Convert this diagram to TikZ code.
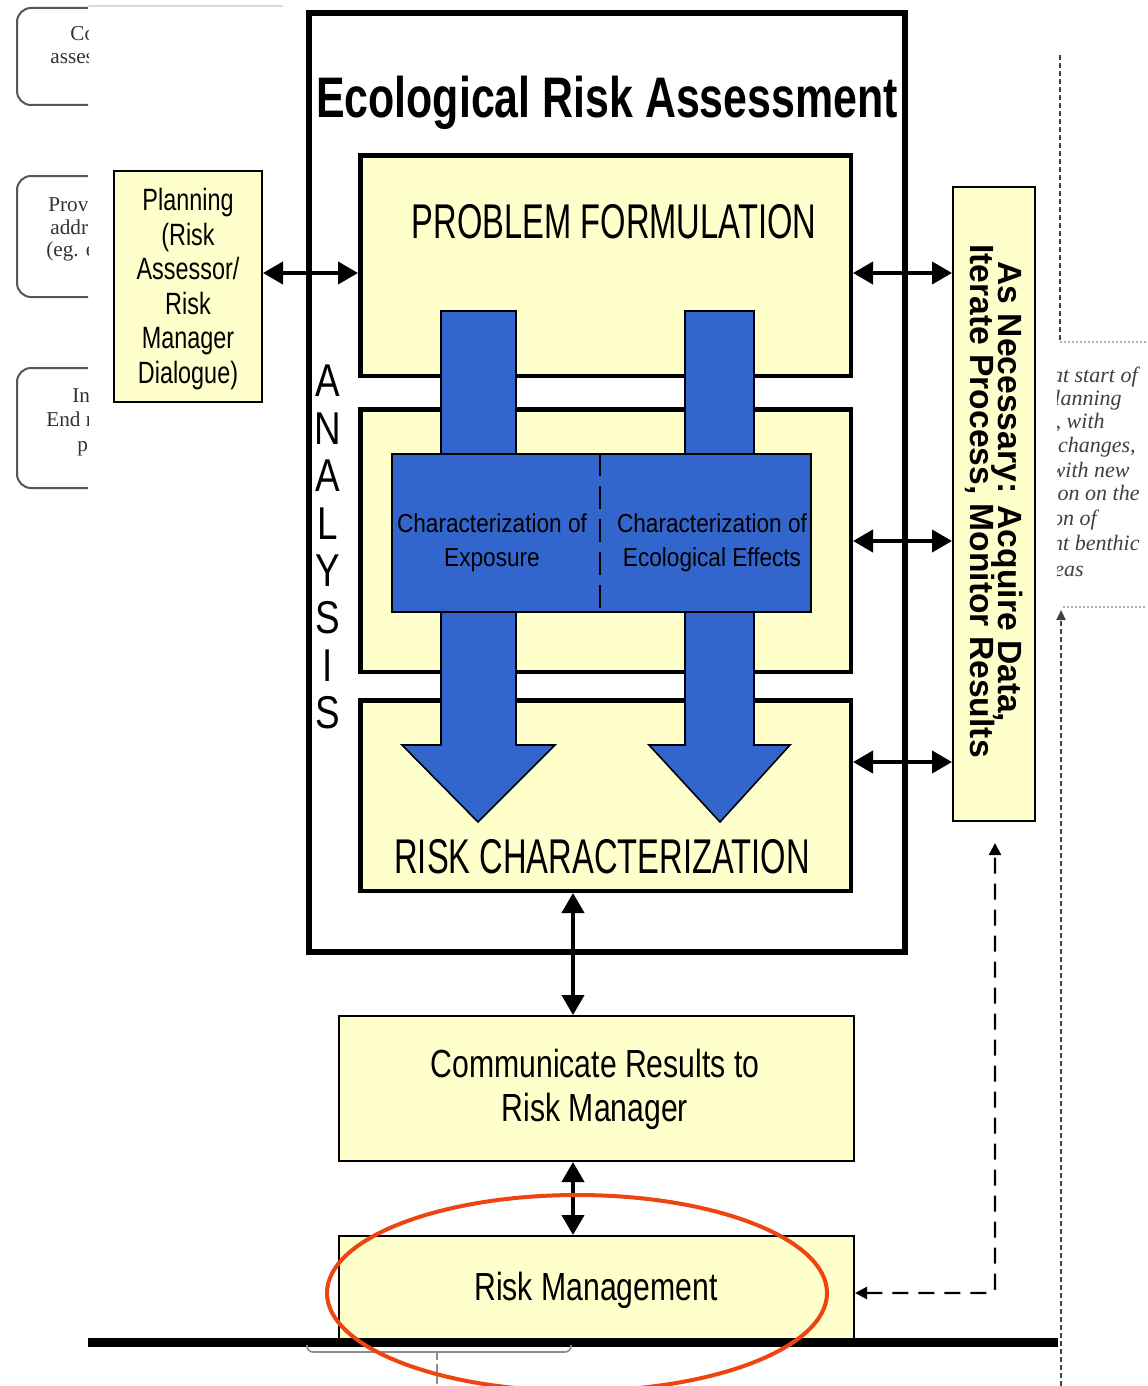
\documentclass[tikz,border=0pt]{standalone}
\usepackage{fontspec}
\usepackage{graphicx}
\setmainfont{Liberation Sans}
\newfontfamily\oldserif{Liberation Serif}
\usetikzlibrary{arrows.meta}
\definecolor{boxyellow}{HTML}{FFFFCC}
\definecolor{arrowblue}{HTML}{3366CC}
\definecolor{ovalred}{HTML}{EE4411}
\definecolor{greyline}{HTML}{555555}
\newcommand\nar[2]{\scalebox{#1}[1]{#2}}
\begin{document}
\begin{tikzpicture}[x=0.5pt,y=-0.5pt,
  ybox/.style={draw=black, fill=boxyellow, line width=1pt, inner sep=0pt},
  stagebox/.style={draw=black, fill=boxyellow, line width=2.25pt, inner sep=0pt},
  dbl/.style={{Triangle[length=10pt,width=11pt]}-{Triangle[length=10pt,width=11pt]}, line width=2pt},
  dasharrow/.style={{Triangle[length=6pt,width=6pt]}-{Triangle[length=6pt,width=6pt]}, line width=1.2pt, dash pattern=on 8pt off 5pt, rounded corners=2pt},
  bluearrow/.style={fill=arrowblue, draw=black, line width=0.8pt, line join=miter},
  dotline/.style={draw=black!75, line width=1.1pt, dash pattern=on 2.5pt off 1.5pt},
  greybox/.style={draw=greyline, line width=1pt, rounded corners=7pt},
  sidetext/.style={font=\oldserif\fontsize{10.6}{12}\selectfont, text=black!80, inner sep=0pt, anchor=base west},
  notetext/.style={font=\oldserif\itshape\fontsize{11}{12}\selectfont, text=black!75, inner sep=0pt, anchor=base east},
  plain/.style={inner sep=0pt}
]
\useasboundingbox (0,0) rectangle (1147,1386);
\fill[white] (0,0) rectangle (1147,1386);

% left clipped boxes
\begin{scope}
\clip (0,0) rectangle (88,1386);
\draw[greybox] (17,8) rectangle (160,105);
\draw[greybox] (17,176) rectangle (160,297);
\draw[greybox] (17,368) rectangle (160,488);
\node[sidetext] (l1a) at (70,41) {Co};
\node[sidetext] (l1b) at (50,64) {asses};
\node[sidetext] (l2a) at (48,211) {Prov};
\node[sidetext] (l2b) at (50,234) {addr};
\node[sidetext] (l2c) at (46,256) {(eg. e};
\node[sidetext] (l3a) at (72,402) {In};
\node[sidetext] (l3b) at (46,426) {End r};
\node[sidetext] (l3c) at (77,451) {p};
\end{scope}
\draw[black!15, line width=0.6pt] (88,6) -- (283,6);

% main assessment frame
\node[draw=black, fill=white, line width=3pt, minimum width=298pt, minimum height=469.5pt, inner sep=0pt] (era) at (607,482.5) {};
\node[plain, anchor=base, font=\bfseries\fontsize{28.6}{30}\selectfont] (title) at (607,118) {\nar{0.75}{Ecological Risk Assessment}};

\node[stagebox, minimum width=245.25pt, minimum height=110.25pt] (pf) at (605.5,265.5) {};
\node[stagebox, minimum width=245.25pt, minimum height=131.25pt] (ana) at (605.5,540.5) {};
\node[stagebox, minimum width=245.25pt, minimum height=95.25pt] (rc) at (605.5,795.5) {};

% blue arrows
\draw[bluearrow] (441,311) -- (516,311) -- (516,745) -- (555,745) -- (478,822) -- (402,745) -- (441,745) -- cycle;
\draw[bluearrow] (685,311) -- (754,311) -- (754,745) -- (790,745) -- (720,822) -- (649,745) -- (685,745) -- cycle;

\node[draw=black, fill=arrowblue, line width=1pt, minimum width=209.5pt, minimum height=79pt, inner sep=0pt] (bluebox) at (601.5,533) {};
\draw[line width=1pt, dash pattern=on 11.5pt off 5pt] (bluebox.north -| 600,0) -- (bluebox.south -| 600,0);
\node[plain, align=center, font=\fontsize{13}{17}\selectfont] (expt) at (492,543) {\nar{0.87}{Characterization of}\\\nar{0.87}{Exposure}};
\node[plain, align=center, font=\fontsize{13}{17}\selectfont] (efft) at (712,543) {\nar{0.87}{Characterization of}\\\nar{0.87}{Ecological Effects}};

\node[plain, anchor=base, font=\fontsize{24.4}{26}\selectfont] (pft) at (614,238) {\nar{0.67}{PROBLEM FORMULATION}};
\node[plain, anchor=base, font=\fontsize{24.4}{26}\selectfont] (rct) at (602,873) {\nar{0.67}{RISK CHARACTERIZATION}};

\foreach \l [count=\i] in {A,N,A,L,Y,S,I,S}
  \node[plain, anchor=base, font=\fontsize{23}{24}\selectfont] (an\i) at (328,349.5+47.4*\i) {\nar{0.8}{\l}};

% planning
\node[ybox, minimum width=74pt, minimum height=115.5pt] (plan) at (188,286.5) {};
\node[plain, align=center, font=\fontsize{15.4}{17.3}\selectfont] (plant) at (188,289) {\nar{0.76}{Planning}\\\nar{0.76}{(Risk}\\\nar{0.76}{Assessor/}\\\nar{0.76}{Risk}\\\nar{0.76}{Manager}\\\nar{0.76}{Dialogue)}};

% right box
\node[ybox, minimum width=41pt, minimum height=317pt] (rbox) at (994,504) {};
\node[plain, anchor=base, rotate=-90, font=\bfseries\fontsize{16.8}{18}\selectfont] (rbt1) at (998,492) {As Necessary: Acquire Data,};
\node[plain, anchor=base, rotate=-90, font=\bfseries\fontsize{16.8}{18}\selectfont] (rbt2) at (970,501) {Iterate Process, Monitor Results};

% lower boxes
\node[ybox, minimum width=257.5pt, minimum height=72.5pt] (comm) at (596.5,1088.5) {};
\node[plain, align=center, font=\fontsize{19.6}{22}\selectfont] (commt) at (595,1089.5) {\nar{0.77}{Communicate Results to}\\\nar{0.77}{Risk Manager}};
\node[ybox, minimum width=257.5pt, minimum height=52.5pt] (rm) at (596.5,1288.5) {};
\node[plain, anchor=base, font=\fontsize{19.6}{22}\selectfont] (rmt) at (596,1300) {\nar{0.77}{Risk Management}};

% connectors
\draw[dbl] (plan.east |- 0,273) -- (pf.west |- 0,273);
\draw[dbl] (pf.east |- 0,273) -- (rbox.west |- 0,273);
\draw[dbl] (ana.east |- 0,541) -- (rbox.west |- 0,541);
\draw[dbl] (rc.east |- 0,762) -- (rbox.west |- 0,762);
\draw[dbl] (rc.south -| 573,0) -- (comm.north -| 573,0);
\draw[dbl] (comm.south -| 573,0) -- (rm.north -| 573,0);

\coordinate (dcorner) at (995,1293);
\coordinate (dtip) at (995,843);
\draw[dasharrow] (rm.east |- dcorner) -- (dcorner) -- (dtip);

% bottom line and bracket
\draw[line width=4.5pt] (88,1342) -- (1058,1342);
\draw[black!45, line width=0.8pt, rounded corners=3pt] (307,1345) -- (307,1352) -- (571,1352) -- (571,1345);
\draw[black!45, line width=0.8pt, dash pattern=on 4pt off 2pt] (437,1352) -- (437,1386);

% right dotted line and note
\draw[dotline] (1060,55) -- (1060,342);
\draw[black!30, line width=0.7pt, dash pattern=on 1pt off 1pt] (1060,342) -- (1147,342);
\draw[black!30, line width=0.7pt, dash pattern=on 1pt off 1pt] (1063,607) -- (1147,607);
\draw[dotline, -{Triangle[length=5pt,width=4.5pt]}] (1061,1386) -- (1061,610);
\begin{scope}
\clip (1057,330) rectangle (1147,600);
\node[notetext] (n1) at (1138,382) {at start of};
\node[notetext] (n2) at (1122,405) {planning};
\node[notetext] (n3) at (1105,428) {, with};
\node[notetext] (n4) at (1136,452) {changes,};
\node[notetext] (n5) at (1130,477) {with new};
\node[notetext] (n6) at (1140,500) {ion on the};
\node[notetext] (n7) at (1097,525) {ion of};
\node[notetext] (n8) at (1140,550) {nt benthic};
\node[notetext] (n9) at (1084,576) {eas};
\end{scope}

% red ellipse
\draw[ovalred, line width=2pt] (577,1293) ellipse [x radius=125pt, y radius=49pt];
\end{tikzpicture}
\end{document}
